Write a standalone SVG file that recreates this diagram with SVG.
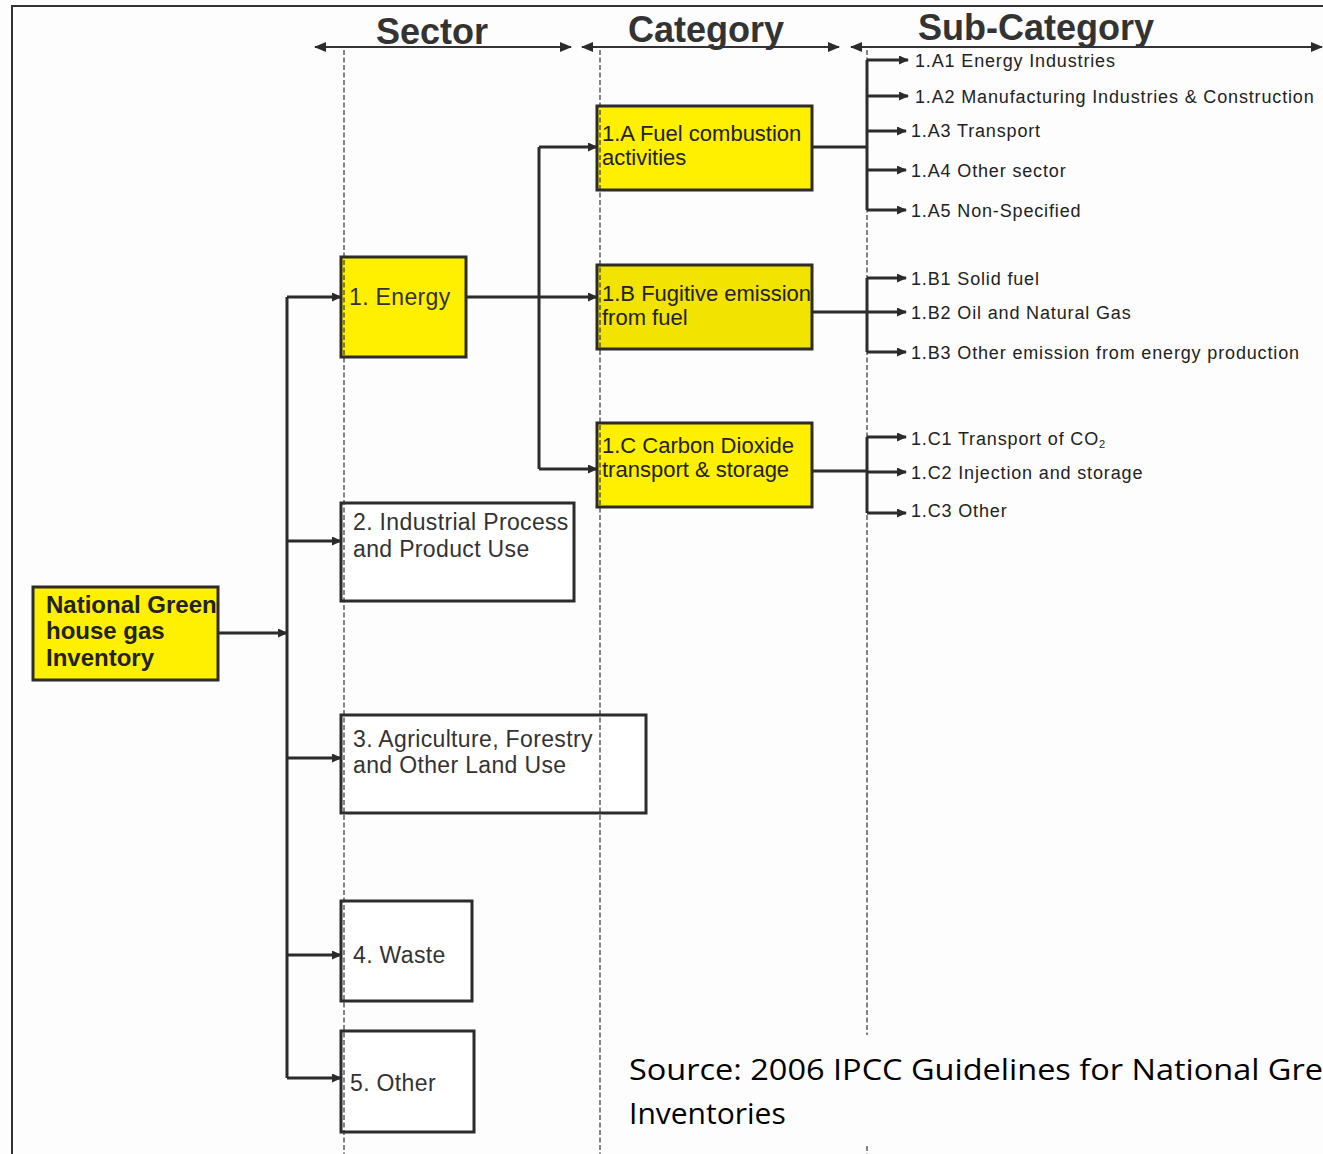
<svg xmlns="http://www.w3.org/2000/svg" width="1323" height="1154" viewBox="0 0 1323 1154">
<defs>
<marker id="arr" markerUnits="userSpaceOnUse" markerWidth="10" markerHeight="9" refX="9" refY="4.5" orient="auto"><path d="M0,0 L10,4.5 L0,9 z" fill="#2b2b2b"/></marker>
<marker id="harr" markerUnits="userSpaceOnUse" markerWidth="12" markerHeight="10" refX="11" refY="5" orient="auto-start-reverse"><path d="M0,0 L12,5 L0,10 z" fill="#2b2b2b"/></marker>
</defs>
<style>
.box{stroke:#2d2b2b;stroke-width:3}
.yel{fill:#fff000}
.yel2{fill:#f2e400}
.wht{fill:#ffffff}
.t{font-family:"Liberation Sans",Arial,sans-serif;font-size:23px;fill:#333;letter-spacing:0.35px}
.tc{font-family:"Liberation Sans",Arial,sans-serif;font-size:22px;fill:#222}
.tb{font-family:"Liberation Sans",Arial,sans-serif;font-size:24px;font-weight:bold;fill:#222}
.hd{font-family:"Liberation Sans",Arial,sans-serif;font-size:36px;font-weight:bold;fill:#333}
.sub{font-family:"Liberation Sans",Arial,sans-serif;font-size:18px;fill:#222;letter-spacing:0.85px}
.src{font-family:"Open Sans","Noto Sans",sans-serif;font-size:30px;fill:#000}
.con{fill:none;stroke:#2d2b2b;stroke-width:3}
.hl{fill:none;stroke:#333;stroke-width:2}
.dash{fill:none;stroke:#333;stroke-width:1.2;stroke-dasharray:5 2.5}
</style>
<rect width="1323" height="1154" fill="#fdfdfd"/>
<path d="M12,1154 V6 H1323" fill="none" stroke="#333" stroke-width="2"/>

<g id="headers">
<path class="hl" d="M315,47 H571" marker-start="url(#harr)" marker-end="url(#harr)"/>
<path class="hl" d="M582,47 H839" marker-start="url(#harr)" marker-end="url(#harr)"/>
<path class="hl" d="M851,47 H1322" marker-start="url(#harr)" marker-end="url(#harr)"/>
<text class="hd" x="376" y="44">Sector</text>
<text class="hd" x="628" y="42">Category</text>
<text class="hd" x="918" y="40">Sub-Category</text>
</g>

<g id="node-ngi">
<rect class="box yel" x="33" y="587" width="185" height="93"/>
<text class="tb" x="46" y="613">National Green</text>
<text class="tb" x="46" y="639">house gas</text>
<text class="tb" x="46" y="666">Inventory</text>
</g>
<g id="node-energy">
<rect class="box yel" x="341" y="257" width="125" height="100"/>
<text class="t" x="349" y="305">1. Energy</text>
</g>
<g id="node-ippu">
<rect class="box wht" x="341" y="503" width="233" height="98"/>
<text class="t" x="353" y="530">2. Industrial Process</text>
<text class="t" x="353" y="557">and Product Use</text>
</g>
<g id="node-afolu">
<rect class="box wht" x="341" y="715" width="305" height="98"/>
<text class="t" x="353" y="747">3. Agriculture, Forestry</text>
<text class="t" x="353" y="773">and Other Land Use</text>
</g>
<g id="node-waste">
<rect class="box wht" x="341" y="901" width="131" height="100"/>
<text class="t" x="353" y="963">4. Waste</text>
</g>
<g id="node-other">
<rect class="box wht" x="341" y="1031" width="133" height="101"/>
<text class="t" x="350" y="1091">5. Other</text>
</g>
<g id="node-1A">
<rect class="box yel" x="597" y="106" width="215" height="84"/>
<text class="tc" x="602" y="141">1.A Fuel combustion</text>
<text class="tc" x="602" y="165">activities</text>
</g>
<g id="node-1B">
<rect class="box yel2" x="597" y="265" width="215" height="84"/>
<text class="tc" x="602" y="301">1.B Fugitive emission</text>
<text class="tc" x="602" y="325">from fuel</text>
</g>
<g id="node-1C">
<rect class="box yel" x="597" y="423" width="215" height="84"/>
<text class="tc" x="602" y="453">1.C Carbon Dioxide</text>
<text class="tc" x="602" y="477">transport &amp; storage</text>
</g>

<g id="guides">
<path class="dash" d="M344,50 V1154"/>
<path class="dash" d="M600,50 V1154"/>
<path class="dash" d="M867,50 V1035 M867,1146 V1154"/>
</g>

<g id="connectors">
<path class="con" d="M218,633 H287" marker-end="url(#arr)"/>
<path class="con" d="M287,297 V1078"/>
<path class="con" d="M287,297 H341" marker-end="url(#arr)"/>
<path class="con" d="M287,541 H341" marker-end="url(#arr)"/>
<path class="con" d="M287,758 H341" marker-end="url(#arr)"/>
<path class="con" d="M287,955 H341" marker-end="url(#arr)"/>
<path class="con" d="M287,1078 H341" marker-end="url(#arr)"/>
<path class="con" d="M466,297 H597" marker-end="url(#arr)"/>
<path class="con" d="M539,147 V469"/>
<path class="con" d="M539,147 H597" marker-end="url(#arr)"/>
<path class="con" d="M539,469 H597" marker-end="url(#arr)"/>
<path class="con" d="M812,147 H867"/>
<path class="con" d="M867,60 V210"/>
<path class="con" d="M867,60 H908" marker-end="url(#arr)"/>
<path class="con" d="M867,96 H908" marker-end="url(#arr)"/>
<path class="con" d="M867,131 H906" marker-end="url(#arr)"/>
<path class="con" d="M867,170 H906" marker-end="url(#arr)"/>
<path class="con" d="M867,210 H906" marker-end="url(#arr)"/>
<path class="con" d="M812,312 H867"/>
<path class="con" d="M867,278 V352"/>
<path class="con" d="M867,278 H906" marker-end="url(#arr)"/>
<path class="con" d="M867,312 H906" marker-end="url(#arr)"/>
<path class="con" d="M867,352 H906" marker-end="url(#arr)"/>
<path class="con" d="M812,471 H867"/>
<path class="con" d="M867,437 V513"/>
<path class="con" d="M867,437 H906" marker-end="url(#arr)"/>
<path class="con" d="M867,472 H906" marker-end="url(#arr)"/>
<path class="con" d="M867,513 H906" marker-end="url(#arr)"/>
</g>

<g id="subcategories">
<text class="sub" x="915" y="67">1.A1 Energy Industries</text>
<text class="sub" x="915" y="103">1.A2 Manufacturing Industries &amp; Construction</text>
<text class="sub" x="911" y="137">1.A3 Transport</text>
<text class="sub" x="911" y="177">1.A4 Other sector</text>
<text class="sub" x="911" y="217">1.A5 Non-Specified</text>
<text class="sub" x="911" y="285">1.B1 Solid fuel</text>
<text class="sub" x="911" y="319">1.B2 Oil and Natural Gas</text>
<text class="sub" x="911" y="359">1.B3 Other emission from energy production</text>
<text class="sub" x="911" y="445">1.C1 Transport of CO<tspan font-size="11" dy="3">2</tspan></text>
<text class="sub" x="911" y="479">1.C2 Injection and storage</text>
<text class="sub" x="911" y="517">1.C3 Other</text>
</g>

<g id="source">
<text class="src" x="629" y="1080" textLength="694" lengthAdjust="spacingAndGlyphs">Source: 2006 IPCC Guidelines for National Gre</text>
<text class="src" x="629" y="1124">Inventories</text>
</g>
</svg>
